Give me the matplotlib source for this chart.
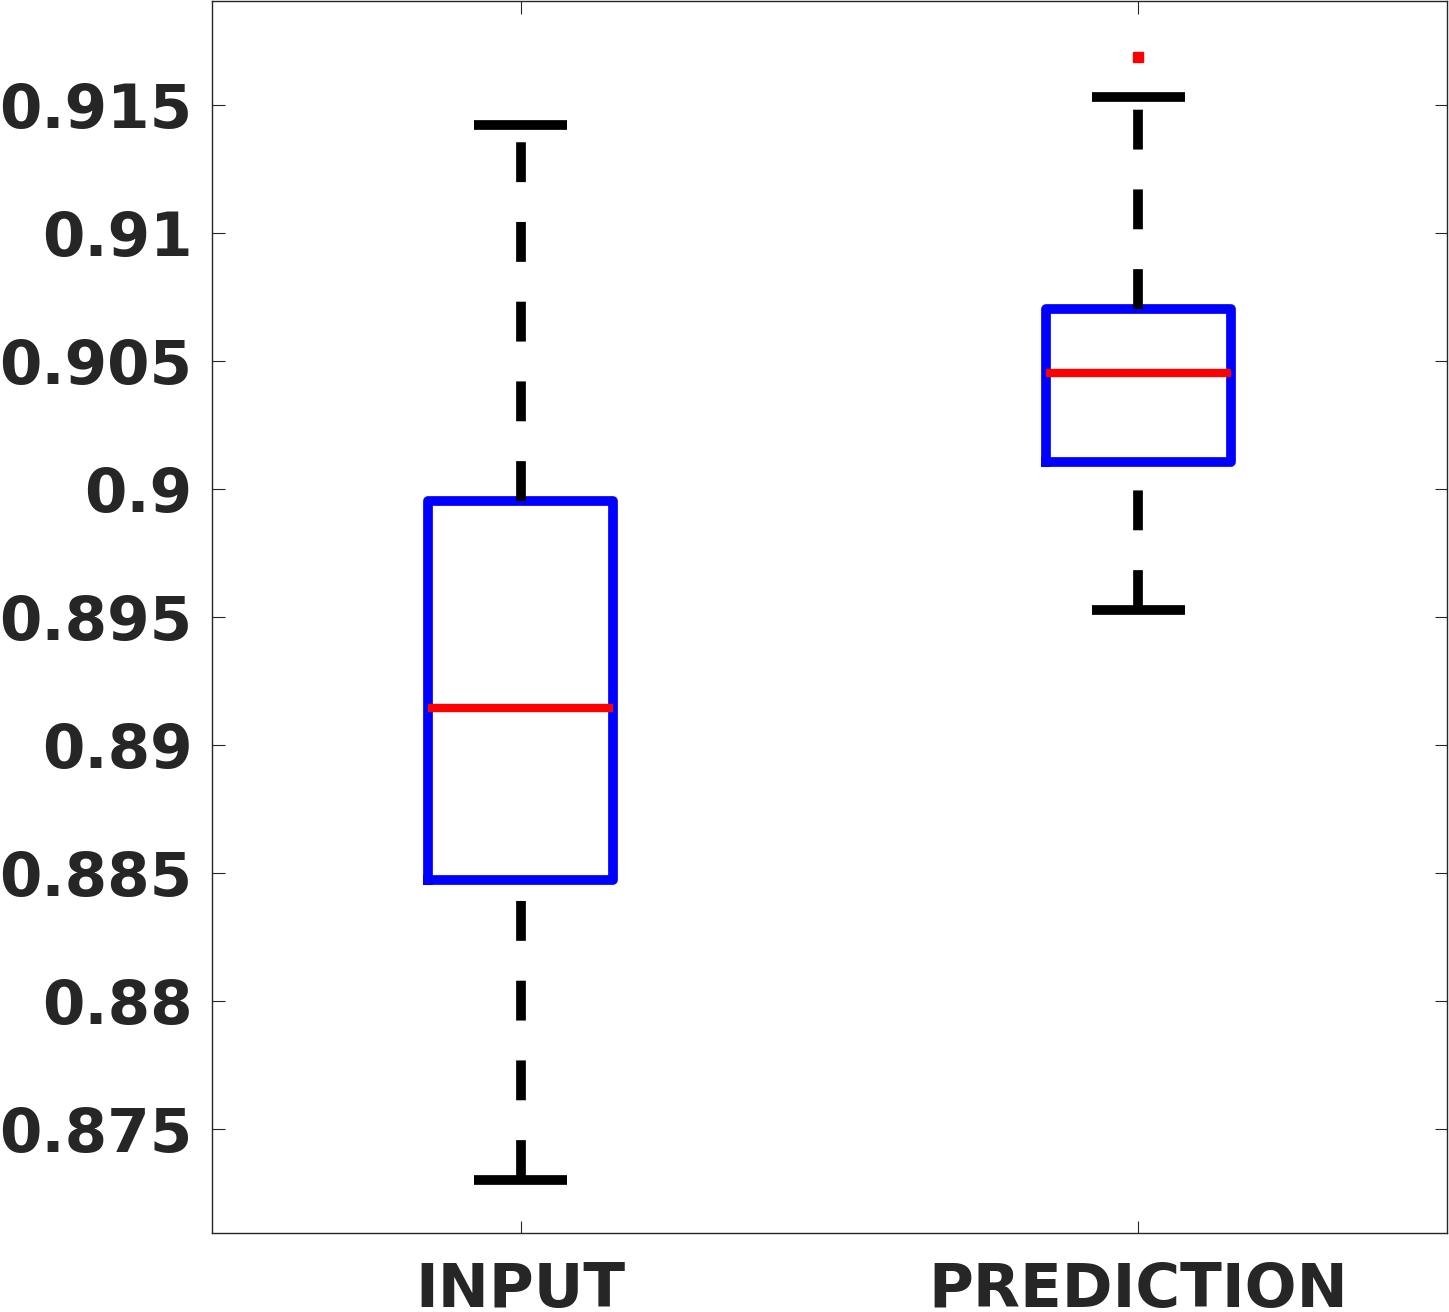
import matplotlib
matplotlib.use("Agg")
import matplotlib.pyplot as plt

# data (MATLAB-style boxplot)
labels = ["INPUT", "PREDICTION"]
medians = [0.89145, 0.90453]
q1 = [0.88473, 0.90105]
q3 = [0.89953, 0.90703]
whislo = [0.87301, 0.89527]
whishi = [0.91422, 0.91531]
fliers = [[], [0.91688]]

stats = []
for i in range(len(labels)):
    stats.append({
        "label": labels[i],
        "med": medians[i],
        "q1": q1[i],
        "q3": q3[i],
        "whislo": whislo[i],
        "whishi": whishi[i],
        "fliers": fliers[i],
    })

fig = plt.figure(figsize=(14.49, 13.12), dpi=100)
ax = fig.add_axes([212 / 1449, 1 - 1233 / 1312, 1235 / 1449, 1232 / 1312])

lw = 7
parts = ax.bxp(
    stats,
    positions=[1, 2],
    widths=0.3,
    capwidths=0.15,
    boxprops=dict(color="blue", linewidth=lw, solid_joinstyle="round"),
    medianprops=dict(color="red", linewidth=lw - 1, solid_capstyle="butt"),
    whiskerprops=dict(color="black", linewidth=lw, linestyle=(0, (4.1, 4.1)),
                      dash_capstyle="butt"),
    capprops=dict(color="black", linewidth=lw, solid_capstyle="butt"),
    flierprops=dict(marker="s", markersize=7, markerfacecolor="red",
                    markeredgecolor="red"),
)

# lower whiskers: dash pattern starts at the cap, like MATLAB
for w in parts["whiskers"][0::2]:
    w.set_ydata(w.get_ydata()[::-1])

ax.set_xlim(0.5, 2.5)
ax.set_ylim(0.87094, 0.91906)
ax.set_yticks([0.875, 0.88, 0.885, 0.89, 0.895, 0.9, 0.905, 0.91, 0.915])
ax.set_yticklabels(["0.875", "0.88", "0.885", "0.89", "0.895", "0.9", "0.905", "0.91", "0.915"])

for s in ax.spines.values():
    s.set_color("#262626")
    s.set_linewidth(1)

ax.tick_params(axis="y", direction="in", length=9, width=0.8, color="#262626",
               labelsize=44, pad=14, right=True, labelcolor="#262626")
ax.tick_params(axis="x", direction="in", length=9, width=0.8, color="#262626",
               labelsize=44, pad=20, top=True, labelcolor="#262626")
for t in ax.get_xticklabels() + ax.get_yticklabels():
    t.set_fontweight("bold")

fig.savefig("out.png", dpi=100)
